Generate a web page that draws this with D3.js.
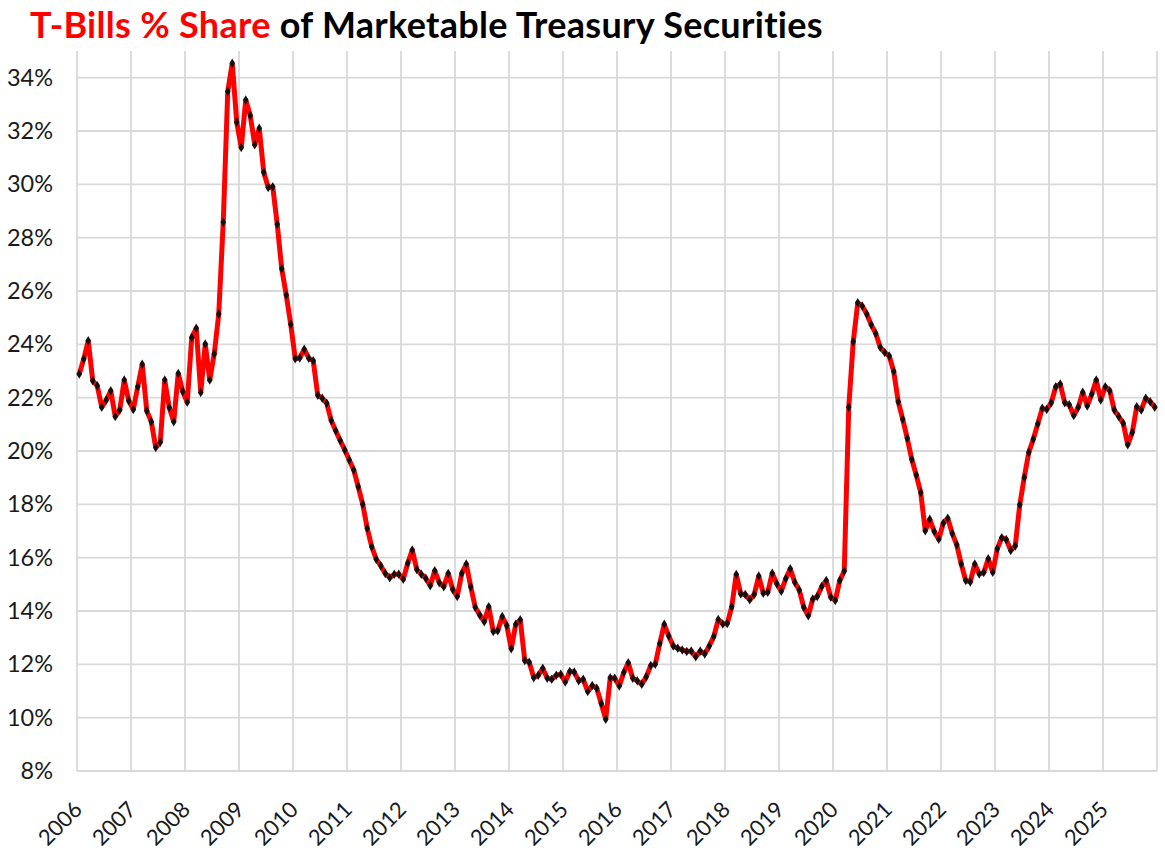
<!DOCTYPE html>
<html>
<head>
<meta charset="utf-8">
<script src="https://cdn.jsdelivr.net/npm/d3@7"></script>
<style>
  html, body { margin: 0; padding: 0; background: #fff; }
  svg { display: block; }
</style>
</head>
<body>
<svg id="chart" width="1165" height="855"></svg>
<script>
// ---- data (monthly, Jan 2006 .. Dec 2025, % of marketable Treasury securities) ----
const startYear = 2006;
const share = [
  // 2006
  22.89, 23.45, 24.13, 22.63, 22.45, 21.64, 21.91, 22.26, 21.29, 21.54, 22.66, 21.88,
  // 2007
  21.56, 22.41, 23.25, 21.51, 21.10, 20.13, 20.33, 22.66, 21.63, 21.10, 22.91, 22.23,
  // 2008
  21.83, 24.26, 24.60, 22.19, 24.01, 22.66, 23.64, 25.14, 28.58, 33.48, 34.54, 32.33,
  // 2009
  31.38, 33.16, 32.58, 31.48, 32.10, 30.45, 29.88, 29.91, 28.50, 26.83, 25.85, 24.75,
  // 2010
  23.46, 23.49, 23.82, 23.48, 23.38, 22.09, 21.98, 21.79, 21.14, 20.76, 20.39, 20.04,
  // 2011
  19.66, 19.29, 18.66, 18.00, 17.10, 16.41, 15.94, 15.70, 15.41, 15.25, 15.38, 15.38,
  // 2012
  15.19, 15.79, 16.29, 15.56, 15.38, 15.23, 14.95, 15.51, 15.06, 14.91, 15.41, 14.81,
  // 2013
  14.54, 15.41, 15.76, 14.91, 14.14, 13.85, 13.60, 14.16, 13.23, 13.26, 13.79, 13.46,
  // 2014
  12.58, 13.50, 13.67, 12.14, 12.08, 11.50, 11.59, 11.85, 11.48, 11.44, 11.59, 11.63,
  // 2015
  11.34, 11.73, 11.71, 11.38, 11.44, 10.98, 11.21, 11.10, 10.53, 9.94, 11.50, 11.48,
  // 2016
  11.19, 11.69, 12.06, 11.48, 11.38, 11.25, 11.53, 11.96, 12.00, 12.78, 13.50, 13.06,
  // 2017
  12.69, 12.60, 12.54, 12.48, 12.50, 12.28, 12.50, 12.39, 12.69, 13.04, 13.68, 13.51,
  // 2018
  13.53, 14.16, 15.37, 14.64, 14.62, 14.42, 14.62, 15.31, 14.67, 14.70, 15.42, 15.02,
  // 2019
  14.74, 15.21, 15.58, 15.08, 14.79, 14.14, 13.82, 14.45, 14.54, 14.92, 15.14, 14.52,
  // 2020
  14.39, 15.14, 15.50, 21.64, 24.10, 25.56, 25.44, 25.14, 24.73, 24.41, 23.89, 23.69,
  // 2021
  23.56, 22.98, 21.85, 21.19, 20.48, 19.69, 19.10, 18.44, 17.01, 17.44, 16.98, 16.69,
  // 2022
  17.29, 17.48, 16.91, 16.48, 15.76, 15.14, 15.09, 15.76, 15.39, 15.44, 15.96, 15.45,
  // 2023
  16.33, 16.75, 16.68, 16.27, 16.44, 17.98, 19.01, 19.94, 20.44, 21.01, 21.60, 21.56,
  // 2024
  21.81, 22.41, 22.51, 21.81, 21.73, 21.33, 21.64, 22.20, 21.69, 22.13, 22.66, 21.91,
  // 2025
  22.41, 22.26, 21.54, 21.29, 21.04, 20.23, 20.69, 21.66, 21.54, 21.98, 21.85, 21.64
];
const yearTicks = [2006, 2007, 2008, 2009, 2010, 2011, 2012, 2013, 2014, 2015,
                   2016, 2017, 2018, 2019, 2020, 2021, 2022, 2023, 2024, 2025];
const yTicks = [8, 10, 12, 14, 16, 18, 20, 22, 24, 26, 28, 30, 32, 34];
const titleRed = "T-Bills % Share";
const titleBlack = " of Marketable Treasury Securities";

// ---- layout ----
const svg = d3.select("#chart");
const plotL = 77, plotR = 1157, plotT = 51, plotB = 771;
const FONT = "Lato, 'Open Sans', 'DejaVu Sans', sans-serif";

const x = d3.scaleLinear().domain([2006, 2026]).range([plotL, plotR]);
const y = d3.scaleLinear().domain([8, 35]).range([plotB, plotT]);

const points = share.map((v, i) => ({ t: startYear + (i + 0.5) / 12, v }));

// gridlines
const grid = svg.append("g").attr("stroke", "#d9d9d9").attr("stroke-width", 1.8);
grid.selectAll("line.h").data(yTicks).join("line")
  .attr("x1", plotL).attr("x2", plotR)
  .attr("y1", d => y(d)).attr("y2", d => y(d));
grid.selectAll("line.v").data(yearTicks.concat([2026])).join("line")
  .attr("x1", d => x(d)).attr("x2", d => x(d))
  .attr("y1", plotT).attr("y2", plotB);

// y axis labels
const yAxis = d3.axisLeft(y).tickValues(yTicks).tickFormat(d => d + "%").tickSize(0).tickPadding(0);
const gy = svg.append("g").attr("transform", `translate(${plotL - 24},0)`).call(yAxis);
gy.select(".domain").remove();
gy.selectAll("text").attr("font-family", FONT).attr("font-size", 23.5).attr("fill", "#1a1a1a");

// x axis labels (rotated)
const xAxis = d3.axisBottom(x).tickValues(yearTicks).tickFormat(d3.format("d")).tickSize(0).tickPadding(0);
const gx = svg.append("g").attr("transform", `translate(0,${plotB})`).call(xAxis);
gx.select(".domain").remove();
gx.selectAll("text")
  .attr("font-family", FONT).attr("font-size", 22).attr("fill", "#1a1a1a")
  .attr("text-anchor", "end")
  .attr("dy", null)
  .attr("y", 0)
  .attr("transform", "translate(6,40) rotate(-45)");

// line
const line = d3.line().x(d => x(d.t)).y(d => y(d.v));
svg.append("path").datum(points)
  .attr("fill", "none").attr("stroke", "#ff0000").attr("stroke-width", 5)
  .attr("stroke-linejoin", "round").attr("stroke-linecap", "round")
  .attr("d", line);

// markers
svg.append("g").selectAll("path").data(points).join("path")
  .attr("d", d3.symbol().type(d3.symbolDiamond).size(26))
  .attr("transform", d => `translate(${x(d.t)},${y(d.v)})`)
  .attr("fill", "#111");

// title
const title = svg.append("text").attr("x", 30).attr("y", 38)
  .attr("font-family", FONT).attr("font-weight", 700).attr("font-size", 36)
  .attr("letter-spacing", 0.3);
title.append("tspan").attr("fill", "#ff0000").text(titleRed);
title.append("tspan").attr("fill", "#000").text(titleBlack);
</script>
</body>
</html>
